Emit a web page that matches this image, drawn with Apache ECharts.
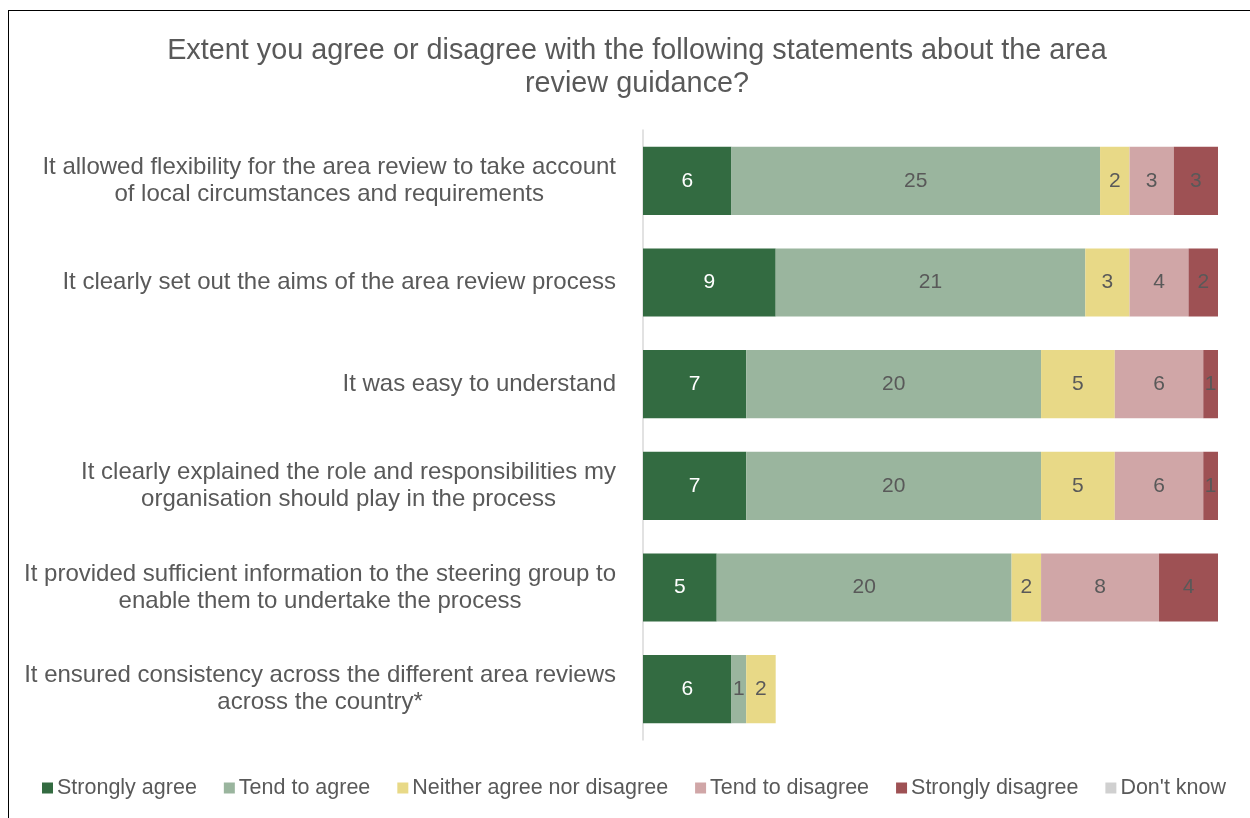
<!DOCTYPE html>
<html><head><meta charset="utf-8">
<script src="https://cdn.jsdelivr.net/npm/echarts@6/dist/echarts.min.js"></script>
<style>
html,body{margin:0;padding:0;background:#fff;}
#frame{position:absolute;left:8px;top:10px;width:1260px;height:830px;border:1.5px solid #000;box-sizing:border-box;}
#c{position:absolute;left:0;top:0;width:1250px;height:818px;}
</style></head>
<body><div id="frame"></div><div id="c"></div>
<script>
const categories = [
  'It allowed flexibility for the area review to take account\nof local circumstances and requirements',
  'It clearly set out the aims of the area review process',
  'It was easy to understand',
  'It clearly explained the role and responsibilities my\norganisation should play in the process',
  'It provided sufficient information to the steering group to\nenable them to undertake the process',
  'It ensured consistency across the different area reviews\nacross the country*'
];
const stronglyAgree    = [6, 9, 7, 7, 5, 6];
const tendToAgree      = [25, 21, 20, 20, 20, 1];
const neither          = [2, 3, 5, 5, 2, 2];
const tendToDisagree   = [3, 4, 6, 6, 8, null];
const stronglyDisagree = [3, 2, 1, 1, 4, null];
const dontKnow         = [null, null, null, null, null, null];
const seriesNames = ['Strongly agree','Tend to agree','Neither agree nor disagree','Tend to disagree','Strongly disagree',"Don't know"];
const colors = ['#336b41','#9ab59e','#e8d987','#d0a6a7','#9e5154','#d0d0d0'];
const values = [stronglyAgree, tendToAgree, neither, tendToDisagree, stronglyDisagree, dontKnow];

const chart = echarts.init(document.getElementById('c'));
const FONT = '"Liberation Sans", Arial, sans-serif';
chart.setOption({
  backgroundColor: 'transparent',
  animation: false,
  title: {
    text: 'Extent you agree or disagree with the following statements about the area\nreview guidance?',
    left: 632, top: 30, textAlign: 'center',
    textStyle: {fontFamily: FONT, fontSize: 28.8, fontWeight: 'normal', color: '#595959', lineHeight: 33, align: 'center'}
  },
  legend: {
    bottom: 14, left: 37,
    itemWidth: 11, itemHeight: 11, itemGap: 27, icon: 'rect',
    textStyle: {fontFamily: FONT, fontSize: 21.5, color: '#595959', padding: [0,0,0,-1]},
    data: seriesNames
  },
  grid: {left: 643, right: 32, top: 130, bottom: 78, containLabel: false},
  xAxis: {type: 'value', min: 0, max: 39, show: false},
  yAxis: {
    type: 'category', inverse: true, data: categories,
    axisLine: {show: true, lineStyle: {color: '#d9d9d9', width: 1.5}},
    axisTick: {show: false},
    axisLabel: {
      margin: 27, align: 'right',
      formatter: v => v.split('\n').map(l => '{c|' + l + '}').join('\n'),
      rich: {c: {fontFamily: FONT, fontSize: 24, color: '#595959', lineHeight: 27, align: 'center'}}
    }
  },
  series: values.map((v, i) => ({
    name: seriesNames[i], type: 'bar', stack: 'total', barWidth: '67%',
    data: v,
    itemStyle: {color: colors[i]},
    label: {
      show: true, position: 'inside', fontFamily: FONT, fontSize: 21,
      color: i === 0 ? '#ffffff' : '#595959',
      formatter: p => (p.value ? p.value : '')
    }
  }))
});
</script></body></html>
